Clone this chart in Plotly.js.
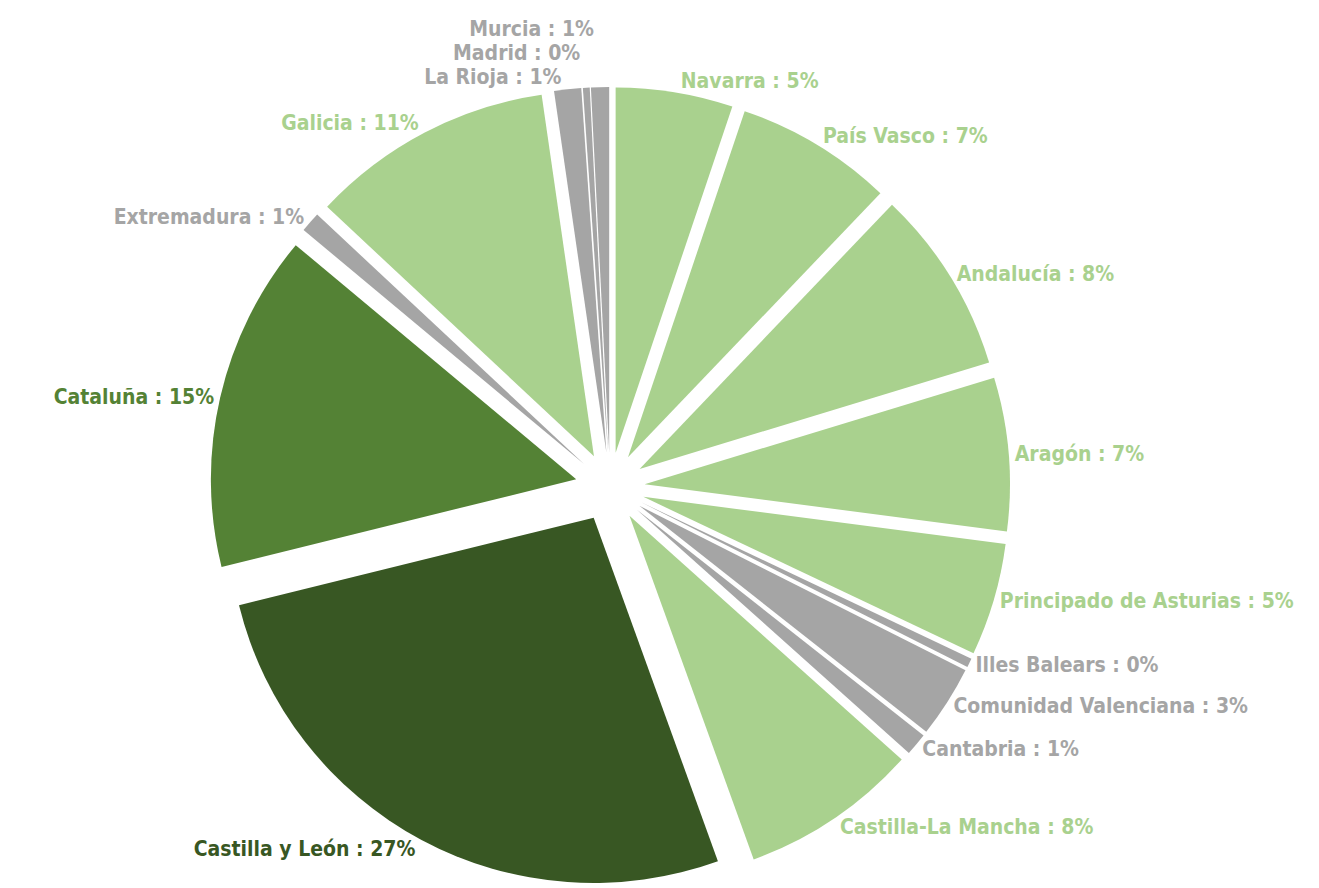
<!DOCTYPE html>
<html>
<head>
<meta charset="utf-8">
<script src="https://cdn.plot.ly/plotly-3.0.1.min.js"></script>
<style>html,body{margin:0;padding:0;background:#fff;}#chart{width:1319px;height:888px;}path.textline{stroke-opacity:0 !important;}</style>
</head>
<body>
<div id="chart"></div>
<script>
const regions = ["Navarra", "País Vasco", "Andalucía", "Aragón", "Principado de Asturias", "Illes Balears", "Comunidad Valenciana", "Cantabria", "Castilla-La Mancha", "Castilla y León", "Cataluña", "Extremadura", "Galicia", "La Rioja", "Madrid", "Murcia"];
const shares = [5.2, 7.0, 8.2, 6.8, 5.0, 0.4, 3.2, 1.0, 7.9, 26.8, 15.0, 0.9, 10.8, 1.2, 0.3, 0.8];
const displayed = [5, 7, 8, 7, 5, 0, 3, 1, 8, 27, 15, 1, 11, 1, 0, 1];
const groups = ["light", "light", "light", "light", "light", "grey", "grey", "grey", "light", "darkest", "dark", "grey", "light", "grey", "grey", "grey"];

const palette = {light: "#A9D18E", dark: "#548235", darkest: "#385723", grey: "#A5A5A5"};
const colors = groups.map(g => palette[g]);
const labelsText = regions.map((r, i) => r + " : " + displayed[i] + "%");

const trace = {
  type: "pie",
  labels: regions,
  values: shares,
  text: labelsText,
  textinfo: "text",
  texttemplate: "%{text}",
  hoverinfo: "text",
  textposition: "outside",
  sort: false,
  direction: "clockwise",
  rotation: 0,
  pull: 0.095,
  marker: {colors: colors, line: {width: 0}},
  outsidetextfont: {family: "DejaVu Sans Condensed, Liberation Sans Narrow, sans-serif", size: 21, color: colors, weight: "bold"},
  domain: {x: [0.159, 0.766], y: [0.001, 0.902]},
  automargin: false
};

const layout = {
  width: 1319,
  height: 888,
  margin: {l: 0, r: 0, t: 0, b: 0},
  showlegend: false,
  paper_bgcolor: "#ffffff",
  font: {family: "DejaVu Sans Condensed, sans-serif"}
};

Plotly.newPlot("chart", [trace], layout, {displayModeBar: false, staticPlot: true});
</script>
</body>
</html>
